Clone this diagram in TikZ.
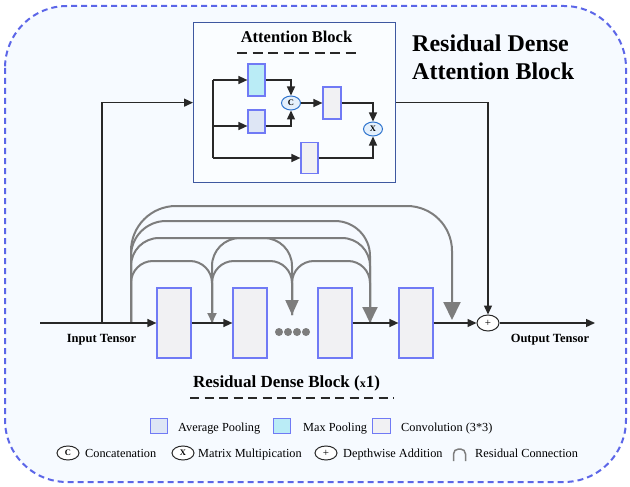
\documentclass[tikz,border=0pt]{standalone}
\usepackage{fontspec}
\setmainfont{Liberation Serif}
\usetikzlibrary{arrows.meta,shapes.geometric}
\definecolor{bgc}{RGB}{246,250,255}
\definecolor{outerc}{RGB}{92,102,232}
\definecolor{attb}{RGB}{62,88,160}
\definecolor{attf}{RGB}{250,253,255}
\definecolor{blkb}{RGB}{112,122,245}
\definecolor{blkf}{RGB}{241,241,243}
\definecolor{maxf}{RGB}{186,236,246}
\definecolor{avgf}{RGB}{222,230,245}
\definecolor{circb}{RGB}{45,115,205}
\definecolor{circf}{RGB}{228,240,252}
\definecolor{lnc}{RGB}{40,40,40}
\definecolor{gc}{RGB}{125,125,125}
\tikzset{
  blk/.style={draw=blkb, fill=blkf, line width=1.2pt, minimum width=34pt, minimum height=70pt, inner sep=0pt},
  sbox/.style={draw=blkb, line width=1.2pt, inner sep=0pt},
  acirc/.style={ellipse, draw=circb, fill=circf, line width=1pt, minimum width=19pt, minimum height=14pt, inner sep=0pt, font=\bfseries\fontsize{8.5}{8.5}\selectfont},
  lcirc/.style={ellipse, draw=lnc, fill=white, line width=1pt, minimum width=22pt, minimum height=14pt, inner sep=0pt, font=\bfseries\fontsize{8.5}{8.5}\selectfont},
  barr/.style={draw=lnc, line width=1.4pt, -{Triangle[length=9pt,width=8pt]}},
  aarr/.style={draw=lnc, line width=1.4pt, -{Triangle[length=9pt,width=8pt]}},
  bline/.style={draw=lnc, line width=1.4pt},
  gline/.style={draw=gc, line width=2pt},
  dashln/.style={draw=lnc, line width=2.2pt, dash pattern=on 9pt off 5.5pt},
  lgtxt/.style={anchor=base west, font=\fontsize{12.3}{12.3}\selectfont, inner sep=0pt},
  dotn/.style={circle, fill=gc, minimum size=8pt, inner sep=0pt}
}
\begin{document}
\begin{tikzpicture}[x=1pt,y=-1pt]
\useasboundingbox (0,0) rectangle (630,487);
\draw[fill=bgc, draw=outerc, line width=2pt, dash pattern=on 6pt off 4pt, rounded corners=62pt] (5,6) rectangle (626,482);

% titles
\node[anchor=base west, inner sep=0pt, font=\bfseries\fontsize{24}{28}\selectfont] (tt1) at (412,52) {Residual Dense};
\node[anchor=base west, inner sep=0pt, font=\bfseries\fontsize{24}{28}\selectfont] (tt2) at (412,80) {Attention Block};

% attention block
\node[draw=attb, fill=attf, line width=1.3pt, minimum width=202pt, minimum height=160pt, anchor=north west, inner sep=0pt] (att) at (193,22) {};
\node[anchor=base, inner sep=0pt, font=\bfseries\fontsize{16.5}{18}\selectfont] (atttitle) at (296.5,43) {Attention Block};
\coordinate (ad1) at (237,53);
\coordinate (ad2) at (358,53);
\draw[dashln, dash pattern=on 10pt off 5.5pt] (ad1) -- (ad2);

\node[sbox, fill=maxf, minimum width=17pt, minimum height=32pt] (maxp) at (256.5,80) {};
\node[sbox, fill=avgf, minimum width=17pt, minimum height=23pt] (avgp) at (256.5,121.5) {};
\node[sbox, fill=blkf, minimum width=18pt, minimum height=32pt] (cv3) at (332,103) {};
\node[sbox, fill=blkf, minimum width=17pt, minimum height=31pt] (cv4) at (309.5,158) {};
\node[acirc] (cc) at (291,103) {C};
\node[acirc] (xx) at (373,129) {X};

\coordinate (t1) at (213,80);
\coordinate (t2) at (213,126);
\coordinate (t3) at (213,158);
\draw[bline] (t1) -- (t3);
\draw[aarr] (t1) -- (maxp.west);
\draw[aarr] (t2) -- (avgp.west |- t2);
\draw[aarr] (t3) -- (cv4.west);
\draw[aarr] (maxp.east) -| (cc.north);
\draw[aarr] (avgp.east |- t2) -| (cc.south);
\draw[aarr] (cc.east) -- (cv3.west);
\draw[aarr] (cv3.east) -| (xx.north);
\draw[aarr] (cv4.east) -| (xx.south);

% main chain
\node[blk] (b1) at (174,323) {};
\node[blk] (b2) at (250,323) {};
\node[blk] (b3) at (335,323) {};
\node[blk] (b4) at (416,323) {};
\node[ellipse, draw=lnc, fill=white, line width=1pt, minimum width=22pt, minimum height=16pt, inner sep=0pt, font=\fontsize{11}{11}\selectfont] (pl) at (488,323) {+};
\node[dotn] (d1) at (279,332) {};
\node[dotn] (d2) at (288,332) {};
\node[dotn] (d3) at (297,332) {};
\node[dotn] (d4) at (306,332) {};

\coordinate (in) at (40,323);
\coordinate (out) at (595,323);
\coordinate (vb) at (102,323);

% gray dense connections
\coordinate (g0) at (131,323);
\coordinate (g1) at (212,323);
\coordinate (g2) at (292,315);
\coordinate (g3) at (370,323);
\coordinate (g4) at (452,320);
\draw[gline, rounded corners=45pt, -{Triangle[length=18pt,width=17pt]}] (g0) -- (131,206) -- (452,206) -- (g4);
\draw[gline, rounded corners=35pt, -{Triangle[length=16pt,width=15pt]}] (g0) -- (131,221) -- (370,221) -- (g3);
\draw[gline, rounded corners=28pt] (g0) -- (131,238) -- (370,238) -- (g3);
\draw[gline, rounded corners=28pt, -{Triangle[length=15pt,width=13pt]}] (g1) -- (212,238) -- (292,238) -- (g2);
\draw[gline, rounded corners=22pt, -{Triangle[length=10pt,width=9pt]}] (g0) -- (131,261) -- (212,261) -- (g1);
\draw[gline, rounded corners=22pt] (g1) -- (212,261) -- (292,261) -- (g2);
\draw[gline, rounded corners=22pt] (g2) -- (292,261) -- (370,261) -- (g3);

\draw[barr] (in) -- (b1.west);
\draw[barr] (b1.east) -- (b2.west);
\draw[barr] (b3.east) -- (b4.west);
\draw[barr] (b4.east) -- (pl.west);
\draw[barr] (pl.east) -- (out);
\draw[barr] (vb) |- (att.west);
\draw[barr] (att.east) -| (pl.north);

\node[anchor=base, inner sep=0pt, font=\bfseries\fontsize{12.5}{13}\selectfont] (intxt) at (101.5,342) {Input Tensor};
\node[anchor=base, inner sep=0pt, font=\bfseries\fontsize{12.5}{13}\selectfont] (outtxt) at (550,342) {Output Tensor};

% residual dense block title
\node[anchor=base, inner sep=0pt, font=\bfseries\fontsize{17}{18}\selectfont] (rdb) at (286.5,387) {Residual Dense Block ({\fontsize{12}{12}\selectfont x}1)};
\coordinate (rd1) at (190,398);
\coordinate (rd2) at (394,398);
\draw[dashln] (rd1) -- (rd2);

% legend row 1
\node[sbox, fill=avgf, minimum width=17pt, minimum height=15pt, line width=1pt] (lg1) at (158.5,425.5) {};
\node[lgtxt] (lt1) at (178,431) {Average Pooling};
\node[sbox, fill=maxf, minimum width=17pt, minimum height=15pt, line width=1pt] (lg2) at (282,425.5) {};
\node[lgtxt] (lt2) at (303,431) {Max Pooling};
\node[sbox, fill=blkf, minimum width=18pt, minimum height=15pt, line width=1pt] (lg3) at (381.5,425.5) {};
\node[lgtxt] (lt3) at (401,431) {Convolution (3*3)};

% legend row 2
\node[lcirc] (lc) at (68,453) {C};
\node[lgtxt] (lt4) at (85,457) {Concatenation};
\node[lcirc] (lx) at (183,453) {X};
\node[lgtxt] (lt5) at (198,457) {Matrix Multipication};
\node[lcirc, font=\fontsize{11}{11}\selectfont] (lp) at (326,453) {+};
\node[lgtxt] (lt6) at (343,457) {Depthwise Addition};
\draw[draw=gc, line width=1.5pt, rounded corners=5pt] (453.5,461) -- (453.5,449) -- (465.5,449) -- (465.5,461);
\node[lgtxt] (lt7) at (475,457) {Residual Connection};
\end{tikzpicture}
\end{document}
